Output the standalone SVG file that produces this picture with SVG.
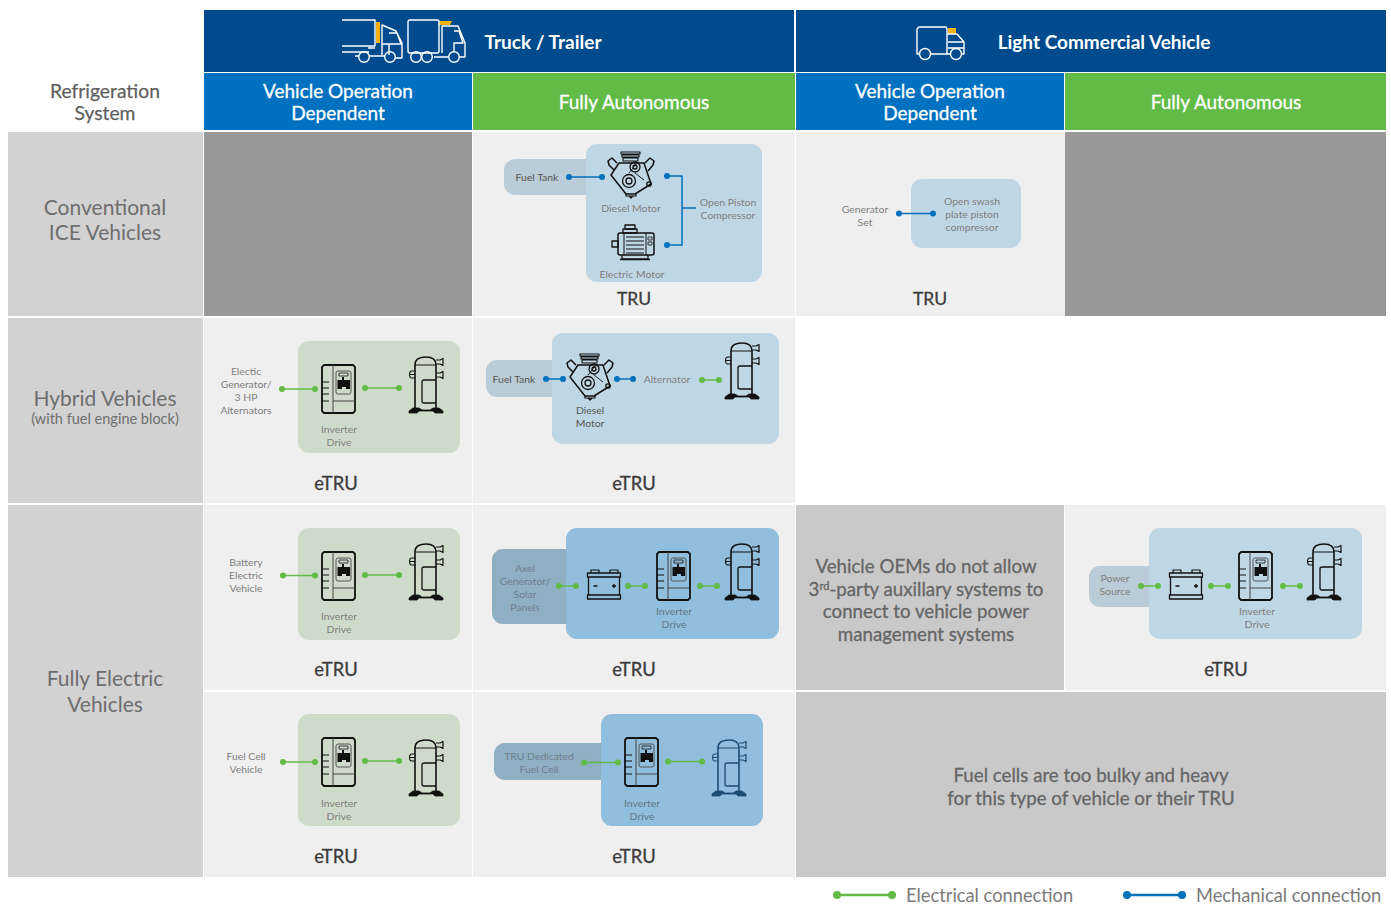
<svg xmlns="http://www.w3.org/2000/svg" width="1391" height="906" viewBox="0 0 1391 906">
<style>
text{font-family:"Lato","Noto Sans",sans-serif;text-anchor:middle}
.hd{font-size:19px;font-weight:700;fill:#fff}
.sub{font-size:19px;fill:#fff;stroke:#fff;stroke-width:.3px}
.row{font-size:21px;fill:#6e6e6e}
.rs{font-size:19.300px;fill:#5f5f5f;stroke:#5f5f5f;stroke-width:.25px}
.tag{font-size:18.400px;fill:#3c3c3c;stroke:#3c3c3c;stroke-width:.3px}
.tg{font-size:17.500px}
.s{font-size:10.400px;fill:#808080}
.k{font-size:10.400px;fill:#565656}
.note{font-size:18.700px;fill:#666;stroke:#666;stroke-width:.3px}
.lg{font-size:18.300px;fill:#7a7a7a;text-anchor:start}
.sup{font-size:11px}
.el{stroke:#62bb46;stroke-width:1.5;fill:none;marker-start:url(#dg);marker-end:url(#dg)}
.me{stroke:#0072bc;stroke-width:1.5;fill:none}
.md{marker-start:url(#db);marker-end:url(#db)}
.wl{fill:none;stroke:#fff;stroke-width:1.4;stroke-linejoin:round}
.ic{fill:none;stroke:#111;stroke-width:1.3;stroke-linejoin:round}
.pb{fill:#bfd6e5}.pg{fill:#cfdbca}.ps{fill:#91bedd}.tb{fill:#b9ccd7}.td{fill:#8fafc3}
</style>
<defs>
<marker id="dg" markerUnits="userSpaceOnUse" markerWidth="8" markerHeight="8" refX="4" refY="4"><circle cx="4" cy="4" r="3" fill="#62bb46"/></marker>
<marker id="db" markerUnits="userSpaceOnUse" markerWidth="8" markerHeight="8" refX="4" refY="4"><circle cx="4" cy="4" r="3" fill="#0072bc"/></marker>
<g id="inv" class="ic">
<path d="M2 0H31L33 2V46L31 48H2L0 46V2Z" stroke-width="1.800"/>
<path d="M11 0V48M11 36H33" stroke-width="1" stroke="#444"/>
<path d="M0 17H7M0 23H7M0 29H7M0 36H7" stroke-width="1"/>
<rect x="14" y="6" width="15" height="23" rx="2" stroke-width="1" stroke="#555"/>
<rect x="17" y="8" width="9" height="3" stroke-width=".8"/>
<path d="M15.500 15H20V12H22V15H28V24H24V22H20V24H15.500Z" fill="#111" stroke="none"/>
</g>
<g id="cmp" class="ic">
<path d="M6 54V10C6 4 11 2 17 2C23 2 27 4 27 10V54" stroke-width="1.600"/>
<path d="M6 10H27" stroke-width="1"/>
<path d="M27 5H31L34 3.500V10.500L31 9H27M27 18H31L34 16.500V23.500L31 22H27" stroke-width="1.200"/>
<path d="M6 16H3C1 16 0.500 18 0.500 19.500C0.500 21 1 23 3 23H6M0.500 19.500H6" stroke-width="1.100"/>
<path d="M27 25H15Q13 25 13 27V46Q13 48 15 48H27" stroke-width="1.300"/>
<path d="M0 58V56L4 53H10L13 55H21L24 53H30L34 56V58H26L24 56H10L8 58Z" fill="#111" stroke="#111" stroke-width=".8"/>
</g>
<g id="cmpn" class="ic" style="stroke:#1c4c72">
<path d="M6 54V10C6 4 11 2 17 2C23 2 27 4 27 10V54" stroke-width="1.600"/>
<path d="M6 10H27" stroke-width="1"/>
<path d="M27 5H31L34 3.500V10.500L31 9H27M27 18H31L34 16.500V23.500L31 22H27" stroke-width="1.200"/>
<path d="M6 16H3C1 16 0.500 18 0.500 19.500C0.500 21 1 23 3 23H6M0.500 19.500H6" stroke-width="1.100"/>
<path d="M27 25H15Q13 25 13 27V46Q13 48 15 48H27" stroke-width="1.300"/>
<path d="M0 58V56L4 53H10L13 55H21L24 53H30L34 56V58H26L24 56H10L8 58Z" fill="#1c4c72" stroke-width=".8"/>
</g>
<g id="die" class="ic">
<path d="M13 1H32V3H13ZM14 4H31V6H14ZM15 7H30V10H15Z" stroke-width="1.100"/>
<path d="M11 12H36L43 33L27 43H18L3 24Z" stroke-width="1.500"/>
<path d="M9 12L4 7L0 10L1 14L6 19M37 12L42 7L46 10L45 14L40 20" stroke-width="1.500"/>
<circle cx="27" cy="16" r="5"/><circle cx="27" cy="16" r="2"/>
<circle cx="21" cy="30" r="6.500"/><circle cx="21" cy="30" r="3"/>
<path d="M21 22L30 11M27 22L36 29" stroke-width=".9"/>
<circle cx="41" cy="33" r="2.200"/>
<path d="M18 43V45H28V43M21 45L23 47L25 45" stroke-width="1.200"/>
</g>
<g id="mot" class="ic">
<rect x="13" y="1" width="10" height="4"/><path d="M11 5H25V9H11Z"/>
<rect x="6" y="9" width="36" height="22" rx="2" stroke-width="1.500"/>
<rect x="0" y="17" width="6" height="6"/>
<path d="M12 9V31M34 9V31M14 13H32M14 17H32M14 21H32M14 25H32M14 29H32" stroke-width="1"/>
<path d="M36 13H40V16H36ZM36 18H40V21H36Z" stroke-width=".8"/>
<path d="M10 31V35H36V31M8 35.500H38" stroke-width="1.300"/>
</g>
<g id="bat" class="ic">
<path d="M1.500 8V26M32.500 8V26" stroke-width="1.300"/>
<path d="M0.500 4H33.500V8H0.500ZM0.500 26H33.500V30H0.500Z" stroke-width="1.300"/>
<path d="M4 4V1H12V4M23 4V1H31V4" stroke-width="1.200"/>
<path d="M6.500 17H10.500M25 17H29M27 15V19" stroke-width="1.400"/>
</g>
</defs>

<rect width="1391" height="906" fill="#fff"/>

<g id="header-truck">
<rect x="204" y="10" width="590" height="62" fill="#004b8d"/>
<path d="M376 22H380V43H376Z" fill="#f2b211"/>
<path d="M439 21H452L450 25H439Z" fill="#f2b211"/>
<g class="wl">
<path d="M342 20H375V46H342M342 52H369M368 48H375M355 56H359M369 56H385"/>
<path d="M382 55V25L396 31L402 43V58H395M389 33H397L401 44H389V55M382 44H389"/>
<circle cx="364" cy="57" r="5.300"/><circle cx="390" cy="57" r="5.300"/>
<rect x="408" y="20" width="31" height="33" rx="2"/>
<path d="M442 53V26H458L465 43V57H459M454 31H459L463 43H454V52M434 57H448"/>
<circle cx="416" cy="57" r="5.300"/><circle cx="427" cy="57" r="5.300"/><circle cx="454" cy="57" r="5.300"/>
</g>
<text class="hd" x="543" y="49">Truck / Trailer</text>
</g>
<g id="header-lcv">
<rect x="796" y="10" width="590" height="62" fill="#004b8d"/>
<rect x="948" y="28" width="8" height="6" fill="#f2b211"/>
<g class="wl">
<path d="M919 54H917V29L919 27H946L947 29V54H931M947 34H957L964 42V54H962M948 42H964M948 48H964M947 54H950"/>
<circle cx="925" cy="54" r="5.500"/><circle cx="956" cy="54" r="5.500"/>
</g>
<text class="hd" x="1104" y="49">Light Commercial Vehicle</text>
</g>
<g id="sub-vod-1"><rect x="204" y="73" width="268" height="57" fill="#0071c1"/><text class="sub" x="338" y="98">Vehicle Operation</text><text class="sub" x="338" y="120">Dependent</text></g>
<g id="sub-fa-1"><rect x="473" y="73" width="322" height="57" fill="#62bb46"/><text class="sub" x="634" y="109">Fully Autonomous</text></g>
<g id="sub-vod-2"><rect x="796" y="73" width="268" height="57" fill="#0071c1"/><text class="sub" x="930" y="98">Vehicle Operation</text><text class="sub" x="930" y="120">Dependent</text></g>
<g id="sub-fa-2"><rect x="1065" y="73" width="321" height="57" fill="#62bb46"/><text class="sub" x="1226" y="109">Fully Autonomous</text></g>

<g id="refrigeration-system"><text class="rs" x="105" y="98">Refrigeration</text><text class="rs" x="105" y="120">System</text></g>

<g id="row-ice"><rect x="8" y="132" width="195" height="184" fill="#d2d2d2"/><text class="row" x="105" y="215">Conventional</text><text class="row" x="105" y="240">ICE Vehicles</text></g>
<g id="row-hybrid"><rect x="8" y="318" width="195" height="185" fill="#d2d2d2"/><text class="row" x="105" y="406">Hybrid Vehicles</text><text x="105" y="424" font-size="14.500" fill="#6e6e6e">(with fuel engine block)</text></g>
<g id="row-electric"><rect x="8" y="505" width="195" height="372" fill="#d2d2d2"/><text class="row" x="105" y="686">Fully Electric</text><text class="row" x="105" y="712">Vehicles</text></g>

<g id="cells">
<rect x="204" y="132" width="268" height="184" fill="#999"/>
<rect x="473" y="132" width="322" height="184" fill="#efefef"/>
<rect x="796" y="132" width="269" height="184" fill="#efefef"/>
<rect x="1065" y="132" width="321" height="184" fill="#999"/>
<rect x="204" y="318" width="268" height="185" fill="#efefef"/>
<rect x="473" y="318" width="322" height="185" fill="#efefef"/>
<rect x="204" y="505" width="268" height="185" fill="#efefef"/>
<rect x="473" y="505" width="322" height="185" fill="#efefef"/>
<rect x="1065" y="505" width="321" height="185" fill="#efefef"/>
<rect x="204" y="692" width="268" height="185" fill="#efefef"/>
<rect x="473" y="692" width="322" height="185" fill="#efefef"/>
</g>

<g id="note-oem"><rect x="796" y="505" width="268" height="185" fill="#c9c9c9"/>
<text class="note" x="926" y="573">Vehicle OEMs do not allow</text>
<text class="note" x="926" y="596">3<tspan class="sup" dy="-6">rd</tspan><tspan dy="6">-party auxillary systems to</tspan></text>
<text class="note" x="926" y="618">connect to vehicle power</text>
<text class="note" x="926" y="641">management systems</text></g>
<g id="note-fuel-cell"><rect x="796" y="692" width="590" height="185" fill="#c9c9c9"/>
<text class="note" x="1091" y="782">Fuel cells are too bulky and heavy</text>
<text class="note" x="1091" y="805">for this type of vehicle or their TRU</text></g>

<g id="tru-truck-fa">
<rect class="tb" x="504" y="159" width="100" height="36" rx="11"/>
<rect class="pb" x="586" y="144" width="176" height="138" rx="11"/>
<text class="k" x="537" y="181">Fuel Tank</text>
<use href="#die" x="608" y="151"/><use href="#mot" x="612" y="224"/>
<text class="s" x="631" y="212">Diesel Motor</text><text class="s" x="632" y="278">Electric Motor</text>
<text class="s" x="728" y="206">Open Piston</text><text class="s" x="728" y="219">Compressor</text>
<text class="tag tg" x="634" y="305">TRU</text>
</g>
<g id="tru-lcv-vod">
<rect class="pb" x="911" y="179" width="110" height="69" rx="11"/>
<text class="s" x="865" y="213">Generator</text><text class="s" x="865" y="226">Set</text>
<text class="s" x="972" y="205">Open swash</text><text class="s" x="972" y="218">plate piston</text><text class="s" x="972" y="231">compressor</text>
<text class="tag tg" x="930" y="305">TRU</text>
</g>
<g id="etru-hybrid-vod">
<rect class="pg" x="298" y="341" width="162" height="112" rx="11"/>
<use href="#inv" x="322" y="365"/><use href="#cmp" x="409" y="355"/>
<text class="s" x="246" y="375">Electic</text><text class="s" x="246" y="388">Generator/</text><text class="s" x="246" y="401">3 HP</text><text class="s" x="246" y="414">Alternators</text>
<text class="s" x="339" y="433">Inverter</text><text class="s" x="339" y="446">Drive</text>
<text class="tag" x="336" y="490">eTRU</text>
</g>
<g id="etru-hybrid-fa">
<rect class="tb" x="486" y="360" width="90" height="37" rx="11"/>
<rect class="pb" x="552" y="333" width="227" height="111" rx="11"/>
<use href="#die" x="567" y="353"/><use href="#cmp" x="725" y="341"/>
<text class="k" x="514" y="383">Fuel Tank</text>
<text class="k" x="590" y="414">Diesel</text><text class="k" x="590" y="427">Motor</text>
<text class="s" x="667" y="383">Alternator</text>
<text class="tag" x="634" y="490">eTRU</text>
</g>
<g id="etru-bev-vod">
<rect class="pg" x="298" y="528" width="162" height="112" rx="11"/>
<use href="#inv" x="322" y="552"/><use href="#cmp" x="409" y="542"/>
<text class="s" x="246" y="566">Battery</text><text class="s" x="246" y="579">Electric</text><text class="s" x="246" y="592">Vehicle</text>
<text class="s" x="339" y="620">Inverter</text><text class="s" x="339" y="633">Drive</text>
<text class="tag" x="336" y="676">eTRU</text>
</g>
<g id="etru-bev-fa">
<rect class="td" x="492" y="549" width="90" height="75" rx="11"/>
<rect class="ps" x="566" y="528" width="213" height="111" rx="11"/>
<use href="#bat" x="587" y="569"/><use href="#inv" x="657" y="552"/><use href="#cmp" x="725" y="542"/>
<text class="s" x="525" y="572" style="fill:#6f7f8a">Axel</text><text class="s" x="525" y="585" style="fill:#6f7f8a">Generator/</text><text class="s" x="525" y="598" style="fill:#6f7f8a">Solar</text><text class="s" x="525" y="611" style="fill:#6f7f8a">Panels</text>
<text class="s" x="674" y="615" style="fill:#657684">Inverter</text><text class="s" x="674" y="628" style="fill:#657684">Drive</text>
<text class="tag" x="634" y="676">eTRU</text>
</g>
<g id="etru-lcv-fa">
<rect class="tb" x="1089" y="566" width="80" height="41" rx="11"/>
<rect class="pb" x="1149" y="528" width="213" height="111" rx="11"/>
<use href="#bat" x="1169" y="569"/><use href="#inv" x="1239" y="552"/><use href="#cmp" x="1307" y="542"/>
<text class="s" x="1115" y="582">Power</text><text class="s" x="1115" y="595">Source</text>
<text class="s" x="1257" y="615">Inverter</text><text class="s" x="1257" y="628">Drive</text>
<text class="tag" x="1226" y="676">eTRU</text>
</g>
<g id="etru-fc-vod">
<rect class="pg" x="298" y="714" width="162" height="112" rx="11"/>
<use href="#inv" x="322" y="738"/><use href="#cmp" x="409" y="738"/>
<text class="s" x="246" y="760">Fuel Cell</text><text class="s" x="246" y="773">Vehicle</text>
<text class="s" x="339" y="807">Inverter</text><text class="s" x="339" y="820">Drive</text>
<text class="tag" x="336" y="863">eTRU</text>
</g>
<g id="etru-fc-fa">
<rect class="td" x="494" y="743" width="120" height="37" rx="11"/>
<rect class="ps" x="601" y="714" width="162" height="112" rx="11"/>
<use href="#inv" x="625" y="738"/><use href="#cmpn" x="712" y="738"/>
<text class="s" x="539" y="760" style="fill:#6f7f8a">TRU Dedicated</text><text class="s" x="539" y="773" style="fill:#6f7f8a">Fuel Cell</text>
<text class="s" x="642" y="807" style="fill:#657684">Inverter</text><text class="s" x="642" y="820" style="fill:#657684">Drive</text>
<text class="tag" x="634" y="863">eTRU</text>
</g>

<g id="connectors">
<path class="me md" d="M569 177H602"/>
<path class="me" d="M667 176H682V245H667M682 208H696"/>
<circle cx="667" cy="176" r="3" fill="#0072bc"/><circle cx="667" cy="245" r="3" fill="#0072bc"/>
<path class="me md" d="M899 213.500H933"/>
<path class="el" d="M282 389H315"/><path class="el" d="M365 388H399"/>
<path class="me md" d="M546 379H563"/><path class="me md" d="M617 379H633"/><path class="el" d="M702 380H719"/>
<path class="el" d="M283 575.500H315"/><path class="el" d="M365 575H399"/>
<path class="el" d="M559 586H576"/><path class="el" d="M628 586H645"/><path class="el" d="M700 586H717"/>
<path class="el" d="M1141 586H1158"/><path class="el" d="M1211 586H1228"/><path class="el" d="M1283 586H1300"/>
<path class="el" d="M283 762H315"/><path class="el" d="M365 761H399"/>
<path class="el" d="M584 762.500H618"/><path class="el" d="M668 761.500H702"/>
</g>

<g id="legend">
<path d="M837 895H892" stroke="#62bb46" stroke-width="2.500"/><circle cx="837" cy="895" r="4" fill="#62bb46"/><circle cx="892" cy="895" r="4" fill="#62bb46"/>
<text class="lg" x="906" y="902">Electrical connection</text>
<path d="M1127 895H1182" stroke="#0072bc" stroke-width="2.500"/><circle cx="1127" cy="895" r="4" fill="#0072bc"/><circle cx="1182" cy="895" r="4" fill="#0072bc"/>
<text class="lg" x="1196" y="902">Mechanical connection</text>
</g>
</svg>
